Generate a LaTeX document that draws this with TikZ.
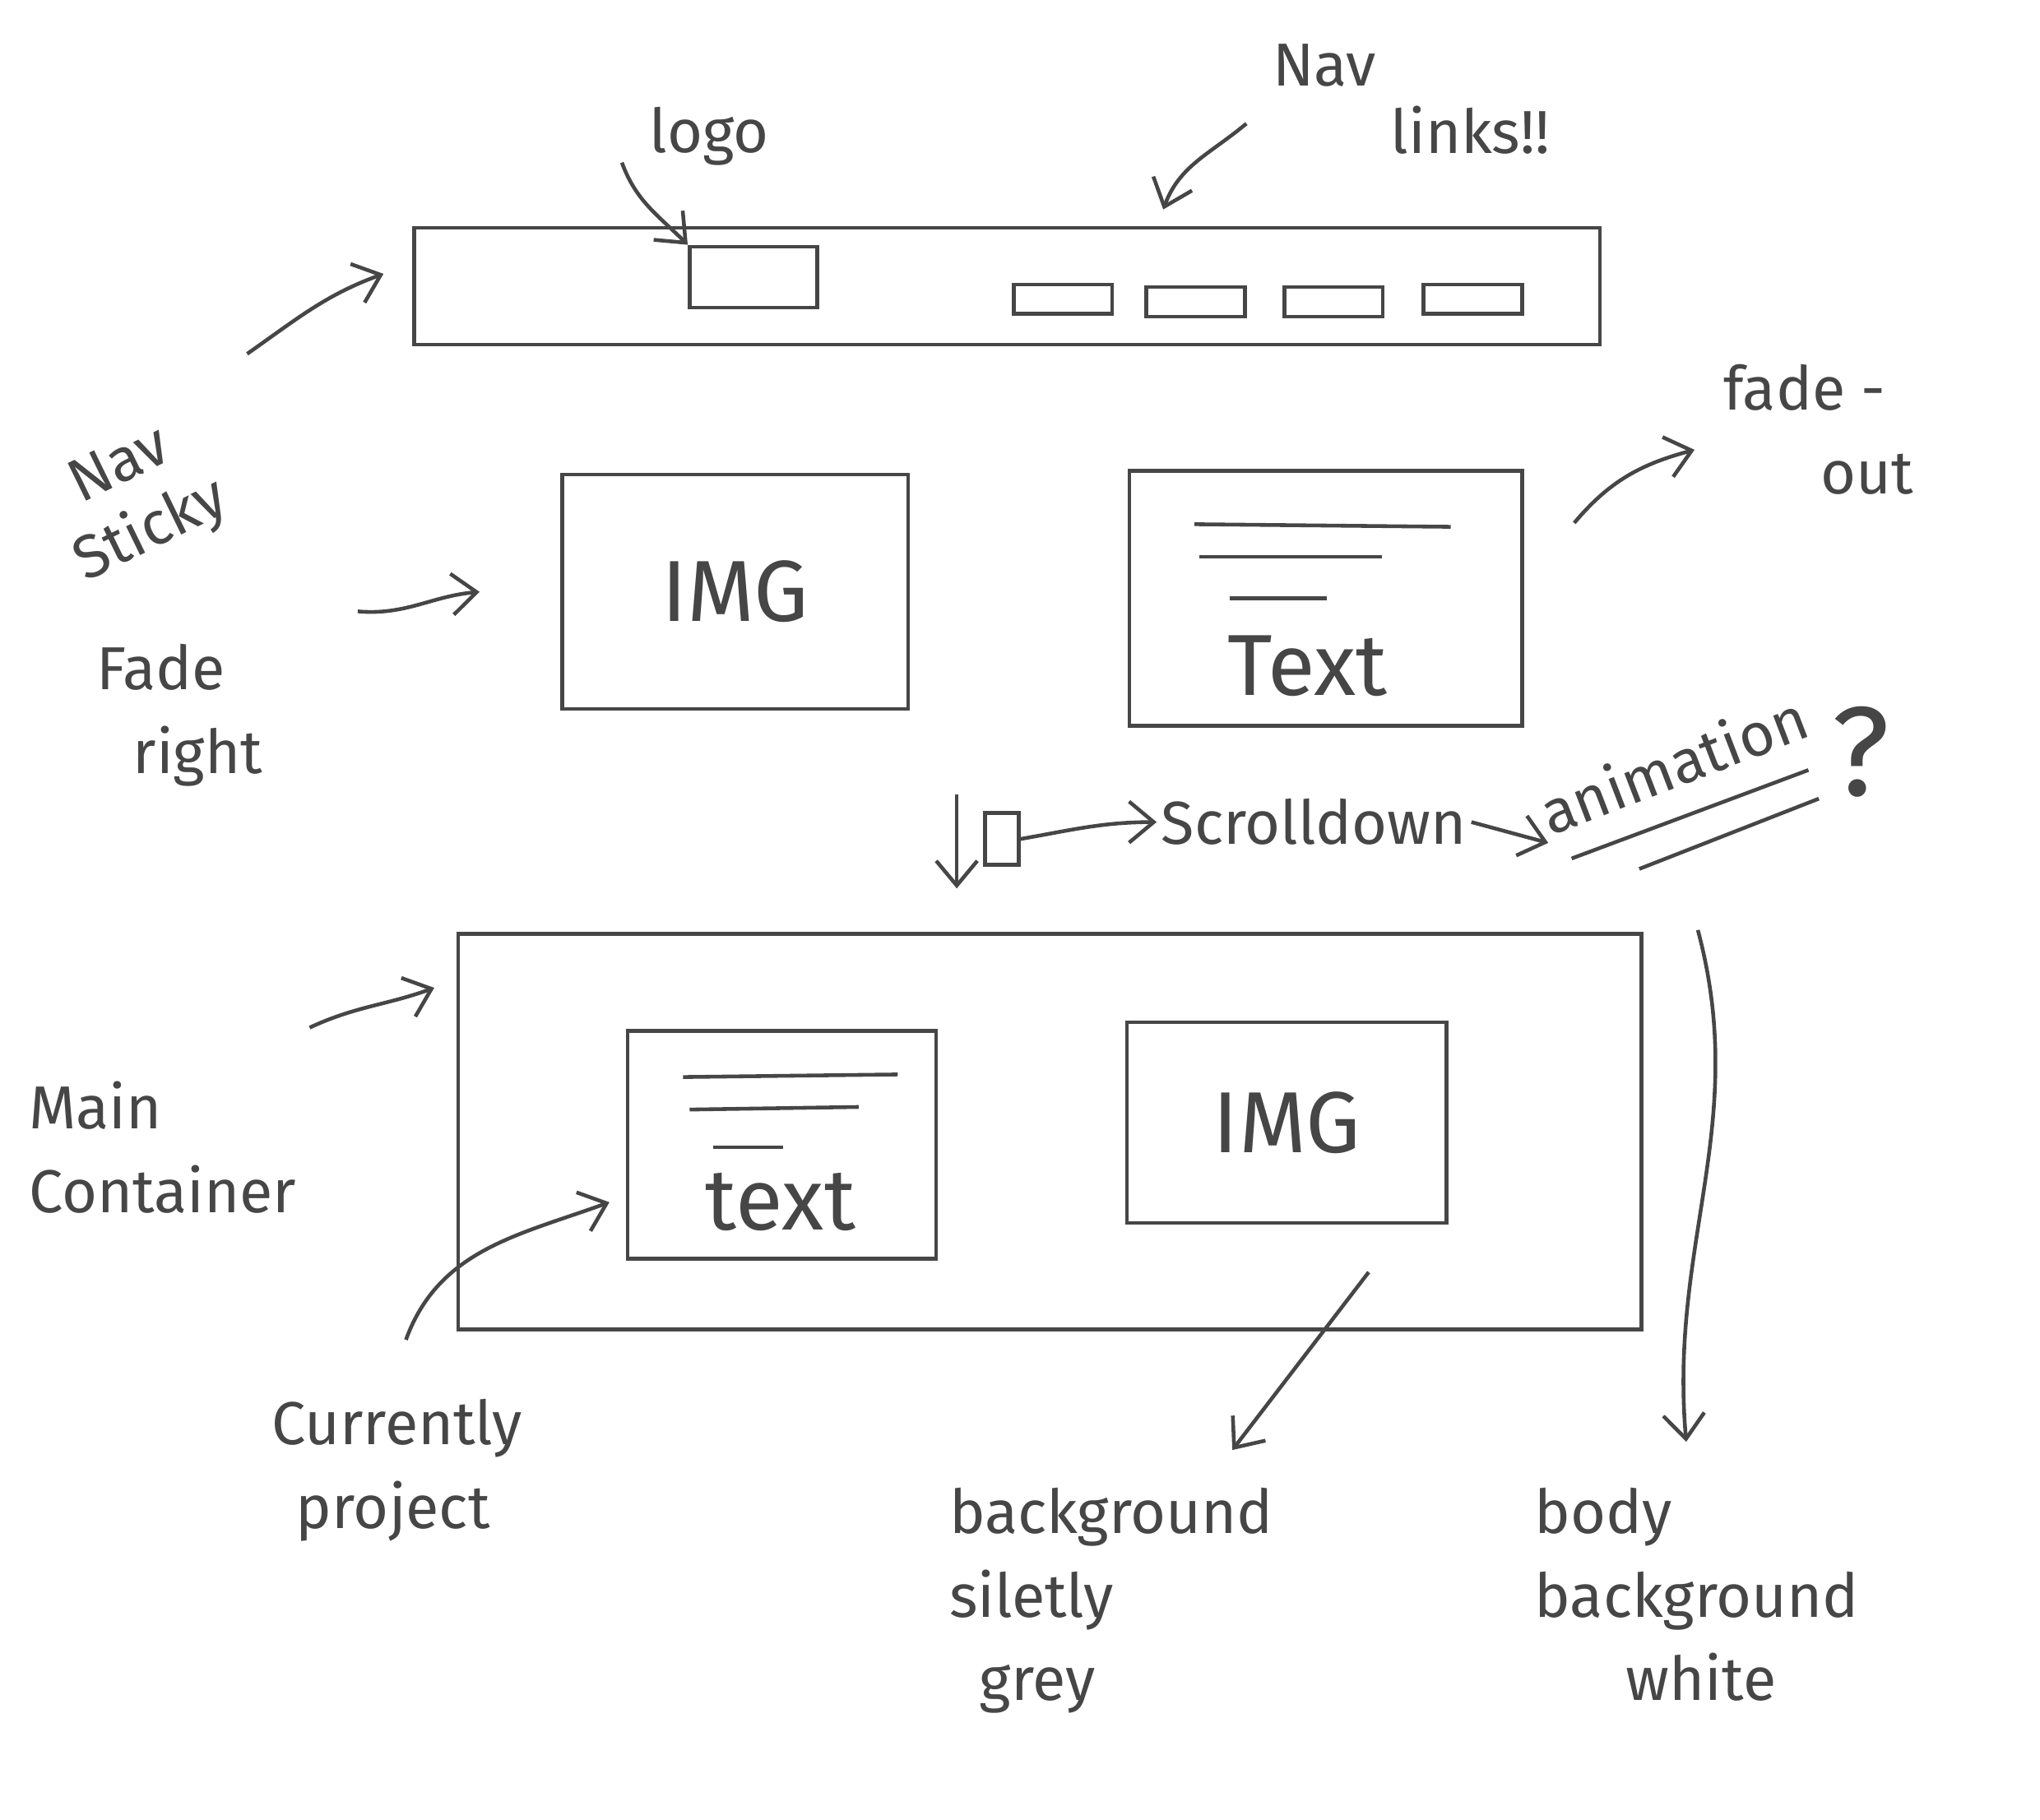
\documentclass[tikz,border=0pt]{standalone}
\usepackage{fontspec}
\setmainfont{Fira Sans}
\usetikzlibrary{arrows.meta,calc}
\definecolor{PenClr}{RGB}{70,70,70}

\begin{document}
\begin{tikzpicture}[x=.015816cm,y=-.015816cm,line width=1.3pt,color=PenClr,
  pane/.style={draw,inner sep=0pt},
  navlink/.style={pane,minimum width=1.2cm,minimum height=.36cm},
  hand/.style={font=\fontsize{21}{29}\selectfont,align=left,inner sep=1pt},
  big/.style={font=\fontsize{30}{34}\selectfont},
  pen/.style={-{Straight Barb[length=3mm,width=5mm]}}]
\useasboundingbox (0,0) rectangle (1568,1399);

\node[pane,minimum width=14.42cm,minimum height=1.42cm] (navbar) at (774,220) {};
\node[pane,minimum width=1.55cm,minimum height=.74cm] (logo) at (579,213) {};
\node[navlink] (linkA) at (817,230) {};
\node[navlink] (linkB) at (919,232) {};
\node[navlink] (linkC) at (1025,232) {};
\node[navlink] (linkD) at (1132,230) {};

\node[pane,big,minimum width=4.21cm,minimum height=2.85cm] (imgA) at (565,455) {IMG};
\node[pane,minimum width=4.78cm,minimum height=3.10cm] (textA) at (1019,460) {};
\node[big] (textAlbl) at (1005,512) {Text};
\draw (918,403) -- (1115,405);
\draw (922,428) -- (1062,428);
\draw (945,460) -- (1020,460);

\node[pane,minimum width=14.39cm,minimum height=4.81cm] (main) at (807,870) {};
\node[pane,minimum width=3.75cm,minimum height=2.77cm] (textB) at (601,880) {};
\node[big] (textBlbl) at (600,924) {text};
\draw (525,828) -- (690,826);
\draw (530,853) -- (660,851);
\draw (548,882) -- (602,882);
\node[pane,big,minimum width=3.89cm,minimum height=2.44cm] (imgB) at (989,863) {IMG};

\node[pane,minimum width=.41cm,minimum height=.63cm] (scroll) at (770,645) {};
\node[hand] (scrolltxt) at (1010,632) {Scrolldown};
\node[hand,rotate=21,anchor=south west] (anim) at (1190,648) {animation};
\node[hand,font=\fontsize{44}{48}\selectfont] (qmark) at (1430,578) {?};
\draw (1208,660) -- (1390,592);
\draw (1260,668) -- (1398,614);

\node[hand] (logotxt) at (545,105) {logo};
\node[hand] (navtxt) at (1018,50) {Nav};
\node[hand] (linkstxt) at (1130,100) {links!!};
\node[hand,align=center,rotate=26] (sticky) at (105,385) {Nav\\[-4pt]Sticky};
\node[hand] (faderight) at (138,550) {Fade\\\hspace{.6em}right};
\node[hand] (fadeout) at (1398,330) {fade -\\\hspace{1.6em}out};
\node[hand] (maintxt) at (125,882) {Main\\Container};
\node[hand] (curtxt) at (305,1130) {Currently\\\hspace{.4em}project};
\node[hand,anchor=north west] (greytxt) at (726,1140) {background\\siletly\\\hspace{.5em}grey};
\node[hand,anchor=north west] (bodytxt) at (1176,1140) {body\\background\\\hspace{1.5em}white};

\coordinate (logotail) at (478,125);
\coordinate (linkstail) at (958,95);
\coordinate (stickytail) at (190,272);
\coordinate (fadetail) at (275,470);
\coordinate (outtail) at (1210,402);
\coordinate (maintail) at (238,790);
\coordinate (curtail) at (312,1030);
\coordinate (greytail) at (1052,978);
\coordinate (bodytail) at (1305,715);

\draw[pen] (logotail) to[out=-70,in=135] (logo.north west);
\draw[pen] (linkstail) to[out=-140,in=70] ($(navbar.north)+(1.9cm,.2cm)$);
\draw[pen] (stickytail) to[out=35,in=200] ([xshift=-.35cm,yshift=.15cm]navbar.west);
\draw[pen] (fadetail) to[out=-5,in=185] ([xshift=-.98cm]imgA.west);
\draw[pen] (outtail) to[out=50,in=195] ([xshift=-.3cm,yshift=-.25cm]fadeout.west);
\draw[pen] (maintail) to[out=25,in=200] ([xshift=-.27cm,yshift=1.75cm]main.west);
\draw[pen] (curtail) to[out=70,in=200] ([xshift=-.2cm,yshift=-.7cm]textB.west);
\draw[pen] (scroll.east) to[out=10,in=180] (scrolltxt.west);
\draw[pen] (scrolltxt.east) -- (anim.south west);
\draw[pen] ([xshift=-.32cm,yshift=.2cm]scroll.north west) -- ++(0,72);
\draw[pen] (greytail) -- ([xshift=3.5cm,yshift=.4cm]greytxt.north west);
\draw[pen] (bodytail) to[out=-75,in=95] ([xshift=1.9cm,yshift=.5cm]bodytxt.north west);
\end{tikzpicture}
\end{document}
